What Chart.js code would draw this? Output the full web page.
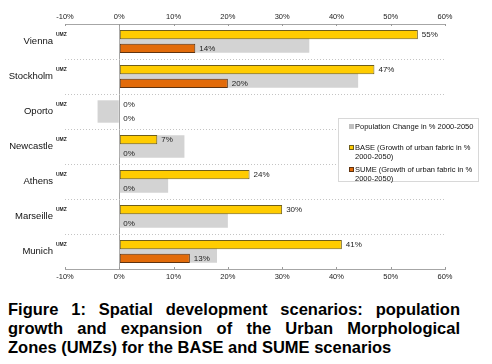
<!DOCTYPE html>
<html>
<head>
<meta charset="utf-8">
<script src="https://cdn.jsdelivr.net/npm/chart.js@4"></script>
<style>
  body { margin: 0; background: #fff; font-family: "Liberation Sans", Arial, sans-serif; }
  #wrap { position: relative; width: 492px; height: 364px; }
  #chart { position: absolute; left: 0; top: 0; }
  #legend { position: absolute; left: 338px; top: 118px; width: 141px; height: 64px;
            border: 1px solid #d8d8d8; background: #fff; box-sizing: border-box;
            font-size: 7.5px; line-height: 9px; color: #111; }
  .item { position: absolute; left: 10px; display: flex; }
  .item .mk { width: 5px; height: 5px; margin-top: 2px; margin-right: 1px; box-sizing: border-box; flex: none; }
  .item .tx { width: 124px; }
  #caption { position: absolute; left: 8px; top: 300px; width: 452px; font-weight: bold;
             font-size: 16.5px; line-height: 19px; color: #000; }
  #caption .j { text-align: justify; text-align-last: justify; white-space: nowrap; }
</style>
</head>
<body>
<div id="wrap">
  <canvas id="chart" width="492" height="290"></canvas>
  <div id="legend"></div>
  <div id="caption">
    <div class="j">Figure 1: Spatial development scenarios: population</div>
    <div class="j">growth and expansion of the Urban Morphological</div>
    <div>Zones (UMZs) for the BASE and SUME scenarios</div>
  </div>
</div>
<script>
const cities = ["Vienna", "Stockholm", "Oporto", "Newcastle", "Athens", "Marseille", "Munich"];
const popChange = [35, 44, -4, 12, 9, 20, 18];
const baseGrowth = [55, 47, 0, 7, 24, 30, 41];
const sumeGrowth = [14, 20, 0, 0, 0, 0, 13];
const xTicks = [-10, 0, 10, 20, 30, 40, 50, 60];

// value labels next to the BASE / SUME bars
const valueLabels = {
    id: "valueLabels",
    afterDatasetsDraw(chart) {
        const ctx = chart.ctx;
        ctx.save();
        ctx.font = "8px 'Liberation Sans', Arial";
        ctx.fillStyle = "#222";
        ctx.textAlign = "left";
        ctx.textBaseline = "middle";
        [1, 2].forEach(function (di) {
            const meta = chart.getDatasetMeta(di);
            meta.data.forEach(function (bar, i) {
                ctx.fillText(chart.data.datasets[di].data[i] + "%", bar.x + 4, bar.y + 0.5);
            });
        });
        ctx.restore();
    }
};

// small "UMZ" superscript after each city and inward tick marks
const extras = {
    id: "extras",
    afterDraw(chart) {
        const ctx = chart.ctx;
        const y = chart.scales.y;
        ctx.save();
        ctx.font = "bold 5px 'Liberation Sans', Arial";
        ctx.fillStyle = "#222";
        ctx.textAlign = "left";
        ctx.textBaseline = "middle";
        y.ticks.forEach(function (t, i) {
            ctx.fillText("UMZ", y.right - 9, y.getPixelForTick(i) - 7);
        });
        ctx.strokeStyle = "#999";
        ctx.lineWidth = 1;
        const area = chart.chartArea;
        xTicks.forEach(function (v) {
            const px = Math.round(chart.scales.x.getPixelForValue(v)) + 0.5;
            ctx.beginPath();
            ctx.moveTo(px, area.top);
            ctx.lineTo(px, area.top + 2);
            ctx.moveTo(px, area.bottom);
            ctx.lineTo(px, area.bottom - 2);
            ctx.stroke();
        });
        ctx.restore();
    }
};

const tickFont = { family: "'Liberation Sans', Arial", size: 7.5 };

const chart = new Chart(document.getElementById("chart"), {
    type: "bar",
    data: {
        labels: cities,
        datasets: [{
            label: "Population Change in % 2000-2050",
            data: popChange,
            backgroundColor: "#d3d3d3",
            grouped: false,
            barPercentage: 0.8,
            order: 3
        }, {
            label: "BASE (Growth of urban fabric in % 2000-2050)",
            data: baseGrowth,
            backgroundColor: "#ffcc00",
            borderColor: "#6e5e1a",
            borderWidth: 1,
            borderSkipped: false,
            categoryPercentage: 0.78,
            barPercentage: 0.67,
            order: 1
        }, {
            label: "SUME (Growth of urban fabric in % 2000-2050)",
            data: sumeGrowth,
            backgroundColor: "#e26b0a",
            borderColor: "#5e3310",
            borderWidth: 1,
            borderSkipped: false,
            categoryPercentage: 0.78,
            barPercentage: 0.67,
            order: 1
        }]
    },
    options: {
        indexAxis: "y",
        responsive: false,
        animation: false,
        layout: { padding: { left: 0, right: 47, top: 0, bottom: 0 } },
        plugins: { legend: { display: false }, tooltip: { enabled: false } },
        scales: {
            x: {
                type: "linear",
                position: "bottom",
                min: -10, max: 60,
                afterBuildTicks: function (s) { s.ticks = xTicks.map(v => ({ value: v })); },
                afterFit: function (s) { s.height = 21; },
                ticks: { callback: v => v + "%", font: tickFont, color: "#222", padding: 3 },
                grid: {
                    drawTicks: false,
                    color: c => (c.tick && c.tick.value === 0) ? "#a6a6a6" : "rgba(0,0,0,0)"
                },
                border: { display: true, color: "#a6a6a6" }
            },
            x2: {
                type: "linear",
                position: "top",
                min: -10, max: 60,
                afterBuildTicks: function (s) { s.ticks = xTicks.map(v => ({ value: v })); },
                afterFit: function (s) { s.height = 24; },
                ticks: { callback: v => v + "%", font: tickFont, color: "#222", padding: 3 },
                grid: { display: false, drawTicks: false },
                border: { display: true, color: "#a6a6a6" }
            },
            y: {
                type: "category",
                afterFit: function (s) { s.width = 65; },
                ticks: { font: { family: "'Liberation Sans', Arial", size: 9.5 }, color: "#111", padding: 12 },
                grid: { drawTicks: false, color: "#c4c4c4", offset: true },
                border: { display: false, dash: [1, 2] }
            }
        }
    },
    plugins: [valueLabels, extras]
});

// legend as html so the long labels can wrap like the original
const legendTops = [3, 24, 46];
const markerColors = [["#c0c0c0", "#c0c0c0"], ["#ffcc00", "#6e5e1a"], ["#e26b0a", "#5e3310"]];
const legend = document.getElementById("legend");
chart.data.datasets.forEach(function (ds, i) {
    const item = document.createElement("div");
    item.className = "item";
    item.style.top = legendTops[i] + "px";
    item.innerHTML = '<div class="mk" style="background:' + markerColors[i][0] +
        ';border:1px solid ' + markerColors[i][1] + '"></div><div class="tx">' + ds.label + '</div>';
    legend.appendChild(item);
});
</script>
</body>
</html>
